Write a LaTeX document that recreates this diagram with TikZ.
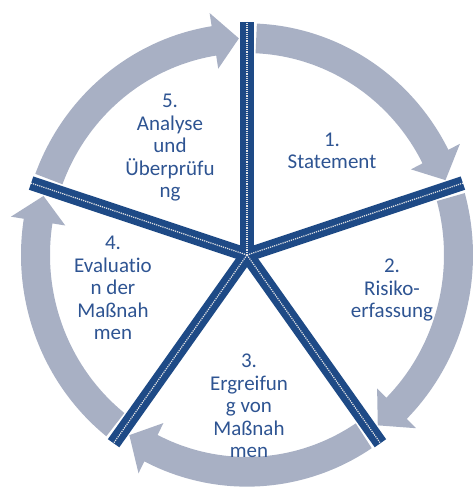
\documentclass[tikz,border=0pt]{standalone}
\usepackage{fontspec}
\setmainfont{Carlito}[Ligatures=NoCommon]
\usetikzlibrary{calc}

\definecolor{ringgray}{RGB}{168,176,196}
\definecolor{spokeblue}{RGB}{30,74,134}
\definecolor{textblue}{RGB}{46,84,146}

\tikzset{
  ring/.style={fill=ringgray, draw=none},
  spoke/.style={draw=spokeblue, line width=14pt},
  seam/.style={draw=white!80!gray, line width=1.2pt, densely dotted},
  stage/.style={text=textblue, align=center, font=\fontsize{21}{22.5}\selectfont}
}

\begin{document}
\begin{tikzpicture}[x=1pt,y=1pt]
\useasboundingbox (0,0) rectangle (476,491);

% define the centre
\coordinate (hub) at (247,236);

% define the ring of arrows
\begin{scope}[shift={(hub)},yscale=1.025]
  \foreach \s/\e in {90/18,18/-54,-54/-126,-126/-198,-198/-270}{
    \pgfmathsetmacro\a{\s-2.5}
    \pgfmathsetmacro\t{\e+2.2}
    \pgfmathsetmacro\b{\e+9}
    \fill[ring] (\a:226) arc[start angle=\a, end angle=\b, radius=226]
      -- (\b:239) -- (\t:211.5) -- (\b:184) -- (\b:197)
      arc[start angle=\b, end angle=\a, radius=197] -- cycle;
  }
  % ends of the spokes
  \foreach \n/\w in {1/90,2/18,3/-54,4/-126,5/162}
    \coordinate (end\n) at (\w:227);
\end{scope}

% define the spokes
\foreach \n in {1,...,5}
  \draw[spoke] (hub) -- (end\n);
\fill[spokeblue] (hub) circle[radius=7];
\foreach \n in {1,...,5}
  \draw[seam] (hub) -- (end\n);

% define the stages
\node[stage] (s1) at (332,340) {1.\\Statement};
\node[stage] (s2) at (392,201) {2.\\Risiko-\\erfassung};
\node[stage] (s3) at (249,85)  {3.\\Ergreifun\\g von\\Maßnah\\men};
\node[stage] (s4) at (113,203) {4.\\Evaluatio\\n der\\Maßnah\\men};
\node[stage] (s5) at (170,343) {5.\\Analyse\\und\\Überprüfu\\ng};

\end{tikzpicture}
\end{document}
